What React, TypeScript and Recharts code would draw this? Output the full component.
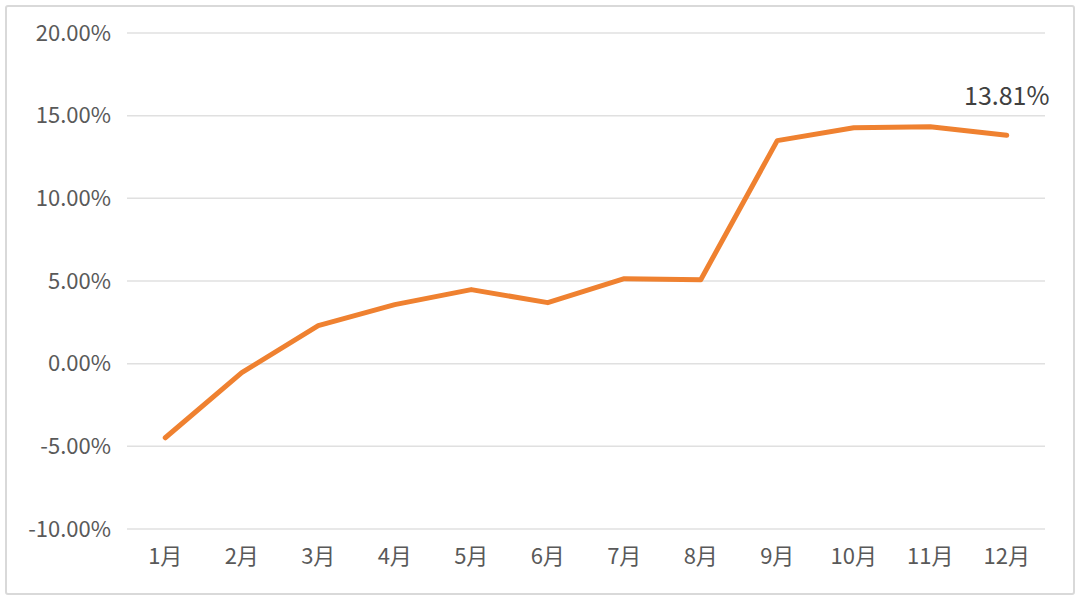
import { LineChart, Line, XAxis, YAxis, CartesianGrid, LabelList } from "recharts";

const months = ["1月", "2月", "3月", "4月", "5月", "6月", "7月", "8月", "9月", "10月", "11月", "12月"];
const returns = [-4.48, -0.54, 2.3, 3.57, 4.48, 3.69, 5.14, 5.08, 13.49, 14.27, 14.33, 13.81];
const yTicks = [-10, -5, 0, 5, 10, 15, 20];

const data = months.map((m, i) => ({ month: m, value: returns[i] }));

const font = '"Noto Sans CJK SC", "Noto Sans", sans-serif';
const pct = (v: number) => v.toFixed(2) + "%";

const LastLabel = (props: any) => {
  const { x, y, index, value } = props;
  if (index !== returns.length - 1) return null;
  return (
    <text x={x} y={y - 30} textAnchor="middle" fill="#404040" fontSize={25} fontFamily={font}>
      {pct(value)}
    </text>
  );
};

export default function App() {
  return (
    <div style={{ position: "absolute", left: 0, top: 0, width: 1080, height: 601, background: "#fff" }}>
      <div
        style={{
          position: "absolute", left: 5, top: 5, width: 1066, height: 586,
          border: "2px solid #d9d9d9", borderRadius: 3,
        }}
      />
      <div style={{ position: "absolute", left: 0, top: 0 }}>
        <LineChart width={1080} height={601} data={data} margin={{ top: 33, right: 35, left: 17, bottom: 32 }}>
          <CartesianGrid vertical={false} stroke="#e0e0e0" strokeWidth={1.5} />
          <XAxis
            dataKey="month"
            scale="band"
            axisLine={false}
            tickLine={false}
            tickSize={0}
            tickMargin={19}
            height={40}
            interval={0}
            tick={{ fontSize: 22, fill: "#595959", fontFamily: font }}
          />
          <YAxis
            domain={[-10, 20]}
            ticks={yTicks}
            axisLine={false}
            tickLine={false}
            tickSize={0}
            tickMargin={16}
            width={110}
            tickFormatter={pct}
            tick={{ fontSize: 22, fill: "#595959", fontFamily: font }}
          />
          <Line
            type="linear"
            dataKey="value"
            stroke="#EF8130"
            strokeWidth={5}
            strokeLinecap="round"
            strokeLinejoin="round"
            dot={false}
            isAnimationActive={false}
          >
            <LabelList dataKey="value" content={<LastLabel />} />
          </Line>
        </LineChart>
      </div>
    </div>
  );
}
